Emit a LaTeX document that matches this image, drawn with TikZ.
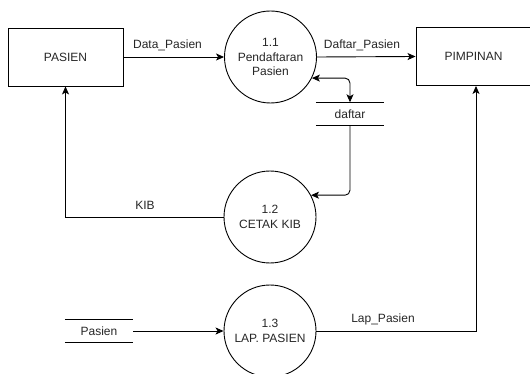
\documentclass[tikz,border=0pt]{standalone}
\usepackage{fontspec}
\setmainfont{Liberation Sans}
\usetikzlibrary{arrows.meta}
\begin{document}
\begin{tikzpicture}[x=1pt,y=-1pt,
  every node/.style={font=\fontsize{12}{14.4}\selectfont, text=black!85},
  entity/.style={draw, line width=0.9pt, minimum width=115pt, minimum height=58pt, inner sep=0pt},
  proc/.style={draw, circle, line width=0.9pt, minimum size=92pt, inner sep=0pt, align=center},
  store/.style={minimum width=68pt, minimum height=23pt, inner sep=0pt},
  flow/.style={line width=0.9pt, -{Stealth[length=8pt,width=7pt,inset=2pt]}},
  lbl/.style={inner sep=0pt}]
\useasboundingbox (0,0) rectangle (530,374);

\node[entity] (pasien) at (65.5,57) {PASIEN};
\node[entity] (pimpinan) at (473.5,56.5) {PIMPINAN};
\node[proc] (p11) at (270.5,57) {1.1\\Pendaftaran\\Pasien};
\node[proc] (p12) at (270,217) {1.2\\CETAK KIB};
\node[proc] (p13) at (270,331) {1.3\\LAP. PASIEN};
\node[store] (daftar) at (350,114) {daftar};
\node[store] (pstore) at (99,331) {Pasien};

\draw[line width=0.9pt] (daftar.north west) -- (daftar.north east);
\draw[line width=0.9pt] (daftar.south west) -- (daftar.south east);
\draw[line width=0.9pt] (pstore.north west) -- (pstore.north east);
\draw[line width=0.9pt] (pstore.south west) -- (pstore.south east);

\draw[flow] (pasien.east) -- (p11.west);
\draw[flow] (p11.east) -- (pimpinan.west);
\draw[flow, {Stealth[length=8pt,width=7pt,inset=2pt]}-{Stealth[length=8pt,width=7pt,inset=2pt]}, rounded corners=5pt] (p11.-27) -| (daftar.north);
\draw[flow, rounded corners=5pt] (daftar.south) |- (p12.28);
\draw[flow] (p12.west) -| (pasien.south);
\draw[flow] (pstore.east) -- (p13.west);
\draw[flow] (p13.east) -| ([xshift=2.5pt]pimpinan.south);

\node[lbl] (l1) at (167.5,45) {Data\_Pasien};
\node[lbl] (l2) at (362,45) {Daftar\_Pasien};
\node[lbl] (l3) at (145,205) {KIB};
\node[lbl] (l4) at (383,319) {Lap\_Pasien};
\end{tikzpicture}
\end{document}
